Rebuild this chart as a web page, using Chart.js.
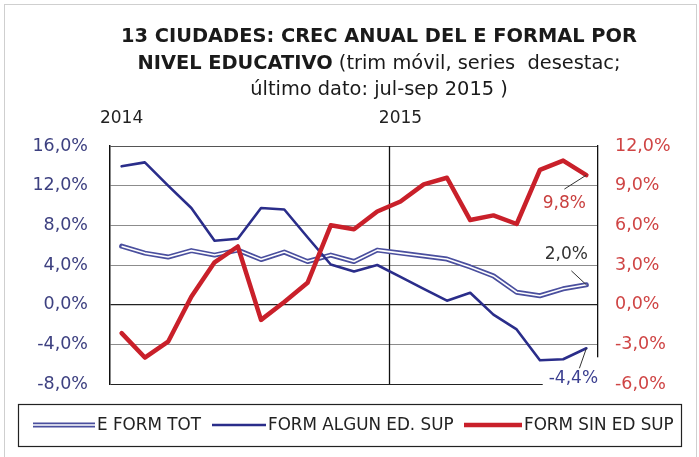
<!DOCTYPE html>
<html>
<head>
<meta charset="utf-8">
<script src="https://cdn.jsdelivr.net/npm/chart.js@4.4.0/dist/chart.umd.min.js"></script>
<style>
  body { margin: 0; background: #fff; }
</style>
</head>
<body>
<canvas id="mainchart" width="699" height="457"></canvas>
<script>
// trimestres moviles, nov-ene 2014 .. jul-sep 2015
var periods = ['nov-ene 14', 'dic-feb 14', 'ene-mar 14', 'feb-abr 14', 'mar-may 14', 'abr-jun 14',
    'may-jul 14', 'jun-ago 14', 'jul-sep 14', 'ago-oct 14', 'sep-nov 14', 'oct-dic 14',
    'nov-ene 15', 'dic-feb 15', 'ene-mar 15', 'feb-abr 15', 'mar-may 15', 'abr-jun 15',
    'may-jul 15', 'jun-ago 15', 'jul-sep 15'];
var yearLabels = ['2014', '2015'];
var yearStarts = ['nov-ene 14', 'nov-ene 15'];

var formTot = [5.9, 5.2, 4.8, 5.45, 5.0, 5.5, 4.55, 5.3, 4.35, 5.0, 4.35, 5.5,
    5.2, 4.9, 4.6, 3.8, 2.9, 1.25, 0.9, 1.6, 2.0];
var formAlgunSup = [13.95, 14.35, 12.0, 9.75, 6.45, 6.65, 9.75, 9.6, 6.8, 4.05, 3.35, 4.0,
    2.8, 1.6, 0.4, 1.2, -1.0, -2.5, -5.6, -5.5, -4.4];
var formSinSup = [-2.15, -4.0, -2.8, 0.6, 3.2, 4.4, -1.15, 0.2, 1.65, 6.0, 5.7, 7.05,
    7.8, 9.1, 9.6, 6.4, 6.75, 6.1, 10.2, 10.9, 9.8];

var leftTicks = { min: -8, max: 16, step: 4 };
var rightTicks = { min: -6, max: 12, step: 3 };

var titleLines = [
    [{ t: '13 CIUDADES: CREC ANUAL DEL E FORMAL POR', b: true }],
    [{ t: 'NIVEL EDUCATIVO', b: true }, { t: ' (trim móvil, series  desestac;', b: false }],
    [{ t: 'último dato: jul-sep 2015 )', b: false }]
];

var FONT = '"DejaVu Sans", sans-serif';
var LEFT_COL = '#3d4080';
var RIGHT_COL = '#cf4444';

function pct(v) {
    return v.toFixed(1).replace('.', ',') + '%';
}

// end-of-series labels: offsets from the last point
var endLabels = [
    { ds: 0, dx: -20, dy: -30, color: '#333', lead: [-15, -14] },
    { ds: 1, dx: -13, dy: 30, color: '#3b3f90', lead: [-7, 20], bg: true },
    { ds: 2, dx: -22, dy: 28, color: '#c9403f', lead: [-22, 14] }
];

function lastPoint(chart, i) {
    var meta = chart.getDatasetMeta(i);
    return meta.data[meta.data.length - 1];
}

var framePlugin = {
    id: 'frame',
    beforeDraw: function (chart) {
        var c = chart.ctx;
        c.save();
        c.fillStyle = '#fff';
        c.fillRect(0, 0, chart.width, chart.height);
        c.strokeStyle = '#cfcfcf';
        c.lineWidth = 1;
        c.strokeRect(4.5, 4.5, chart.width - 7, chart.height + 10);
        c.restore();
    },
    beforeDatasetsDraw: function (chart) {
        var xs = chart.scales.x, a = chart.chartArea, c = chart.ctx;
        c.save();
        // divider between 2014 and 2015
        var i = periods.indexOf(yearStarts[1]);
        var x = Math.round((xs.getPixelForValue(i - 1) + xs.getPixelForValue(i)) / 2) + 0.5;
        c.strokeStyle = '#111';
        c.lineWidth = 1.3;
        c.beginPath();
        c.moveTo(x, a.top);
        c.lineTo(x, a.bottom);
        c.stroke();
        // white patch behind the -4,4% label (hides the frame corner)
        c.font = '17px ' + FONT;
        endLabels.forEach(function (s) {
            if (!s.bg) return;
            var p = lastPoint(chart, s.ds);
            var data = chart.data.datasets[s.ds].data;
            var w = c.measureText(pct(data[data.length - 1])).width;
            var tx = p.x + s.dx, ty = p.y + s.dy;
            c.fillStyle = '#fff';
            c.fillRect(tx - w / 2 - 6, ty - 21, w + 12, 36);
        });
        c.restore();
    },
    afterDatasetDraw: function (chart, args) {
        // white core for the double line
        if (args.index !== 0) return;
        var pts = args.meta.data, c = chart.ctx;
        c.save();
        c.beginPath();
        pts.forEach(function (p, k) {
            if (k === 0) c.moveTo(p.x, p.y); else c.lineTo(p.x, p.y);
        });
        c.strokeStyle = '#fff';
        c.lineWidth = 1.6;
        c.lineJoin = 'round';
        c.stroke();
        c.restore();
    },
    afterDatasetsDraw: function (chart) {
        var c = chart.ctx;
        c.save();
        c.font = '17px ' + FONT;
        c.textAlign = 'center';
        c.textBaseline = 'middle';
        endLabels.forEach(function (s) {
            var p = lastPoint(chart, s.ds);
            var data = chart.data.datasets[s.ds].data;
            var txt = pct(data[data.length - 1]);
            var tx = p.x + s.dx, ty = p.y + s.dy;
            c.strokeStyle = '#333';
            c.lineWidth = 1;
            c.beginPath();
            c.moveTo(p.x + s.lead[0], p.y + s.lead[1]);
            c.lineTo(p.x, p.y);
            c.stroke();
            c.fillStyle = s.color;
            c.fillText(txt, tx, ty);
        });
        c.restore();
    },
    afterDraw: function (chart) {
        var c = chart.ctx;
        c.save();
        // title
        var ys = [42, 69, 95];
        titleLines.forEach(function (parts, i) {
            var w = 0;
            parts.forEach(function (p) {
                c.font = (p.b ? 'bold ' : '') + '19.4px ' + FONT;
                p.w = c.measureText(p.t).width;
                w += p.w;
            });
            var x = 379 - w / 2;
            parts.forEach(function (p) {
                c.font = (p.b ? 'bold ' : '') + '19.4px ' + FONT;
                c.fillStyle = '#1a1a1a';
                c.textAlign = 'left';
                c.textBaseline = 'alphabetic';
                c.fillText(p.t, x, ys[i]);
                x += p.w;
            });
        });

        // year labels
        var xs = chart.scales.x;
        c.font = '17px ' + FONT;
        c.fillStyle = '#222';
        c.textAlign = 'center';
        c.textBaseline = 'middle';
        yearLabels.forEach(function (y, i) {
            c.fillText(y, xs.getPixelForValue(periods.indexOf(yearStarts[i])), 119);
        });

        // legend
        var lx = 18, ly = 404, lw = 663, lh = 42, cy = ly + lh / 2;
        c.strokeStyle = '#222';
        c.lineWidth = 1.2;
        c.strokeRect(lx + 0.5, ly + 0.5, lw, lh);
        var items = [[33, 95, 97], [212, 266, 268], [464, 522, 524]];
        c.font = '16.8px ' + FONT;
        c.textAlign = 'left';
        c.textBaseline = 'middle';
        chart.data.datasets.forEach(function (ds, i) {
            var it = items[i];
            c.beginPath();
            c.moveTo(it[0], cy);
            c.lineTo(it[1], cy);
            c.strokeStyle = ds.borderColor;
            c.lineWidth = ds.borderWidth;
            c.stroke();
            if (i === 0) {
                c.strokeStyle = '#fff';
                c.lineWidth = 1.6;
                c.stroke();
            }
            c.fillStyle = '#222';
            c.fillText(ds.label, it[2], cy + 1);
        });
        c.restore();
    }
};

var ctx = document.getElementById('mainchart').getContext('2d');
var chart = new Chart(ctx, {
    type: 'line',
    data: {
        labels: periods,
        datasets: [{
                label: 'E FORM TOT',
                data: formTot,
                yAxisID: 'y',
                borderColor: '#4a4f9e',
                borderWidth: 5,
                order: 2
            },
            {
                label: 'FORM ALGUN ED. SUP',
                data: formAlgunSup,
                yAxisID: 'y',
                borderColor: '#2a2d8a',
                borderWidth: 2.6,
                order: 1
            },
            {
                label: 'FORM SIN ED SUP',
                data: formSinSup,
                yAxisID: 'y1',
                borderColor: '#c9202a',
                borderWidth: 4.5,
                order: 0
            }]
    },
    options: {
        responsive: false,
        animation: false,
        layout: { padding: { left: 0, right: 0, top: 146, bottom: 73 } },
        elements: {
            point: { radius: 0, hoverRadius: 0 },
            line: { tension: 0, borderJoinStyle: 'round', borderCapStyle: 'round' }
        },
        plugins: {
            legend: { display: false },
            tooltip: { enabled: false },
            title: { display: false }
        },
        scales: {
            x: {
                type: 'category',
                display: false,
                offset: true
            },
            y: {
                position: 'left',
                min: leftTicks.min,
                max: leftTicks.max,
                afterFit: function (s) { s.width = 110; },
                ticks: {
                    stepSize: leftTicks.step,
                    padding: 22,
                    color: LEFT_COL,
                    font: { family: FONT, size: 17.5 },
                    callback: function (v) { return pct(v); }
                },
                grid: {
                    drawTicks: false,
                    lineWidth: function (c) { return c.tick.value === 0 ? 1.3 : 1; },
                    color: function (c) {
                        var v = c.tick.value;
                        if (v === 0 || v === leftTicks.min) return '#222';
                        if (v === leftTicks.max) return '#555';
                        return '#8c8c8c';
                    }
                },
                border: { color: '#111', width: 1.5 }
            },
            y1: {
                position: 'right',
                min: rightTicks.min,
                max: rightTicks.max,
                afterFit: function (s) { s.width = 101; },
                ticks: {
                    stepSize: rightTicks.step,
                    padding: 17,
                    color: RIGHT_COL,
                    font: { family: FONT, size: 17.5 },
                    callback: function (v) { return pct(v); }
                },
                grid: { drawOnChartArea: false, drawTicks: false },
                border: { color: '#111', width: 1.3 }
            }
        }
    },
    plugins: [framePlugin]
});
</script>
</body>
</html>
